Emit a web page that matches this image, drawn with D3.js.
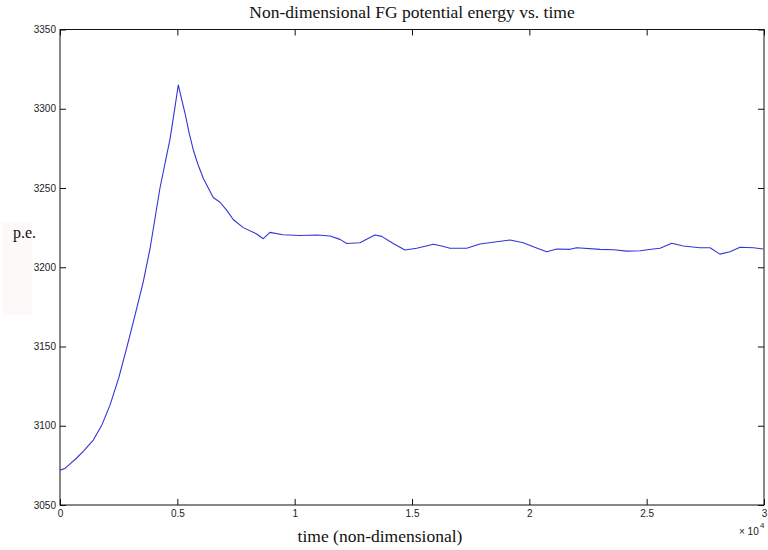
<!DOCTYPE html>
<html>
<head>
<meta charset="utf-8">
<script src="https://cdn.jsdelivr.net/npm/d3@7"></script>
<style>
  body { margin: 0; background: #fff; }
</style>
</head>
<body>
<div id="chart"></div>
<script>
// time in units of 1e4, p.e. values
const times = [0, 0.02, 0.043, 0.07, 0.1, 0.142, 0.18, 0.213, 0.25, 0.284, 0.32, 0.355, 0.384, 0.426, 0.469, 0.49, 0.504,
  0.52, 0.533, 0.55, 0.568, 0.59, 0.611, 0.653, 0.682, 0.71, 0.739, 0.781, 0.838, 0.866, 0.895, 0.95, 1.023, 1.094, 1.151,
  1.193, 1.222, 1.278, 1.342, 1.371, 1.42, 1.47, 1.52, 1.591, 1.627, 1.662, 1.733, 1.79, 1.861, 1.918, 1.974,
  2.017, 2.074, 2.117, 2.173, 2.202, 2.301, 2.36, 2.415, 2.472, 2.528, 2.557, 2.607, 2.656, 2.727, 2.77, 2.812,
  2.855, 2.898, 2.955, 2.997];
const energy = [3072, 3073, 3076, 3079.5, 3084, 3091, 3101, 3113, 3130, 3149, 3170, 3191, 3212, 3250, 3281, 3301, 3315,
  3305, 3297, 3285, 3274, 3264, 3256, 3244, 3241, 3236, 3230, 3225, 3221, 3218, 3222, 3220.5, 3220, 3220.3, 3219.7,
  3217.6, 3215, 3215.5, 3220.3, 3219.5, 3215, 3210.9, 3212, 3214.5, 3213.4, 3212, 3212, 3214.7, 3216.1, 3217.2, 3215.5,
  3213, 3209.8, 3211.5, 3211.3, 3212.3, 3211.3, 3211, 3210.2, 3210.4, 3211.5, 3212, 3215.1, 3213.4, 3212.3, 3212.3, 3208.3,
  3209.8, 3212.6, 3212.3, 3211.5];
const xTicks = [0, 0.5, 1, 1.5, 2, 2.5, 3];
const yTicks = [3050, 3100, 3150, 3200, 3250, 3300, 3350];

const width = 768, height = 550;
const plotLeft = 60, plotRight = 764, plotTop = 29.5, plotBottom = 505;

const svg = d3.select("#chart").append("svg")
  .attr("width", width)
  .attr("height", height);

// faint patch behind the y label
svg.append("rect")
  .attr("x", 2).attr("y", 222).attr("width", 30).attr("height", 93)
  .attr("fill", "#fdf9f9");

const x = d3.scaleLinear().domain([0, 3]).range([plotLeft, plotRight]);
const y = d3.scaleLinear().domain([3050, 3350]).range([plotBottom, plotTop]);

const tickFont = "'Liberation Sans', Arial, sans-serif";
const serif = "'Liberation Serif', 'Times New Roman', serif";

function styleAxis(g) {
  g.select(".domain").remove();
  g.selectAll("line").attr("stroke", "#111").attr("stroke-width", 1);
  g.selectAll("text").attr("fill", "#222").style("font-family", tickFont).style("font-size", "10px");
}

svg.append("g")
  .attr("transform", `translate(0,${plotBottom})`)
  .call(d3.axisBottom(x).tickValues(xTicks).tickFormat(d3.format("")).tickSizeInner(-6).tickPadding(5))
  .call(styleAxis);

svg.append("g")
  .attr("transform", `translate(0,${plotTop})`)
  .call(d3.axisTop(x).tickValues(xTicks).tickFormat("").tickSizeInner(-6))
  .call(styleAxis);

svg.append("g")
  .attr("transform", `translate(${plotLeft},0)`)
  .call(d3.axisLeft(y).tickValues(yTicks).tickFormat(d3.format("d")).tickSizeInner(-6).tickPadding(4))
  .call(styleAxis);

svg.append("g")
  .attr("transform", `translate(${plotRight},0)`)
  .call(d3.axisRight(y).tickValues(yTicks).tickFormat("").tickSizeInner(-6))
  .call(styleAxis);

// box
svg.append("rect")
  .attr("x", plotLeft).attr("y", plotTop)
  .attr("width", plotRight - plotLeft).attr("height", plotBottom - plotTop)
  .attr("fill", "none").attr("stroke", "#111").attr("stroke-width", 1);

const points = times.map((t, i) => [t, energy[i]]);
svg.append("path")
  .datum(points)
  .attr("fill", "none")
  .attr("stroke", "#3434d6")
  .attr("stroke-width", 1.1)
  .attr("stroke-linejoin", "round")
  .attr("d", d3.line().x(d => x(d[0])).y(d => y(d[1])));

// exponent
svg.append("text")
  .attr("x", 739).attr("y", 535)
  .attr("fill", "#222")
  .style("font-family", tickFont).style("font-size", "10px")
  .text("× 10");
svg.append("text")
  .attr("x", 760).attr("y", 528)
  .attr("fill", "#222")
  .style("font-family", tickFont).style("font-size", "8px")
  .text("4");

svg.append("text")
  .attr("x", 412).attr("y", 18)
  .attr("text-anchor", "middle")
  .attr("fill", "#111")
  .style("font-family", serif).style("font-size", "17.5px")
  .text("Non-dimensional FG potential energy vs. time");

svg.append("text")
  .attr("x", 380).attr("y", 542)
  .attr("text-anchor", "middle")
  .attr("fill", "#111")
  .style("font-family", serif).style("font-size", "17.5px")
  .text("time (non-dimensional)");

svg.append("text")
  .attr("x", 13).attr("y", 238)
  .attr("fill", "#111")
  .style("font-family", serif).style("font-size", "16px")
  .text("p.e.");
</script>
</body>
</html>
